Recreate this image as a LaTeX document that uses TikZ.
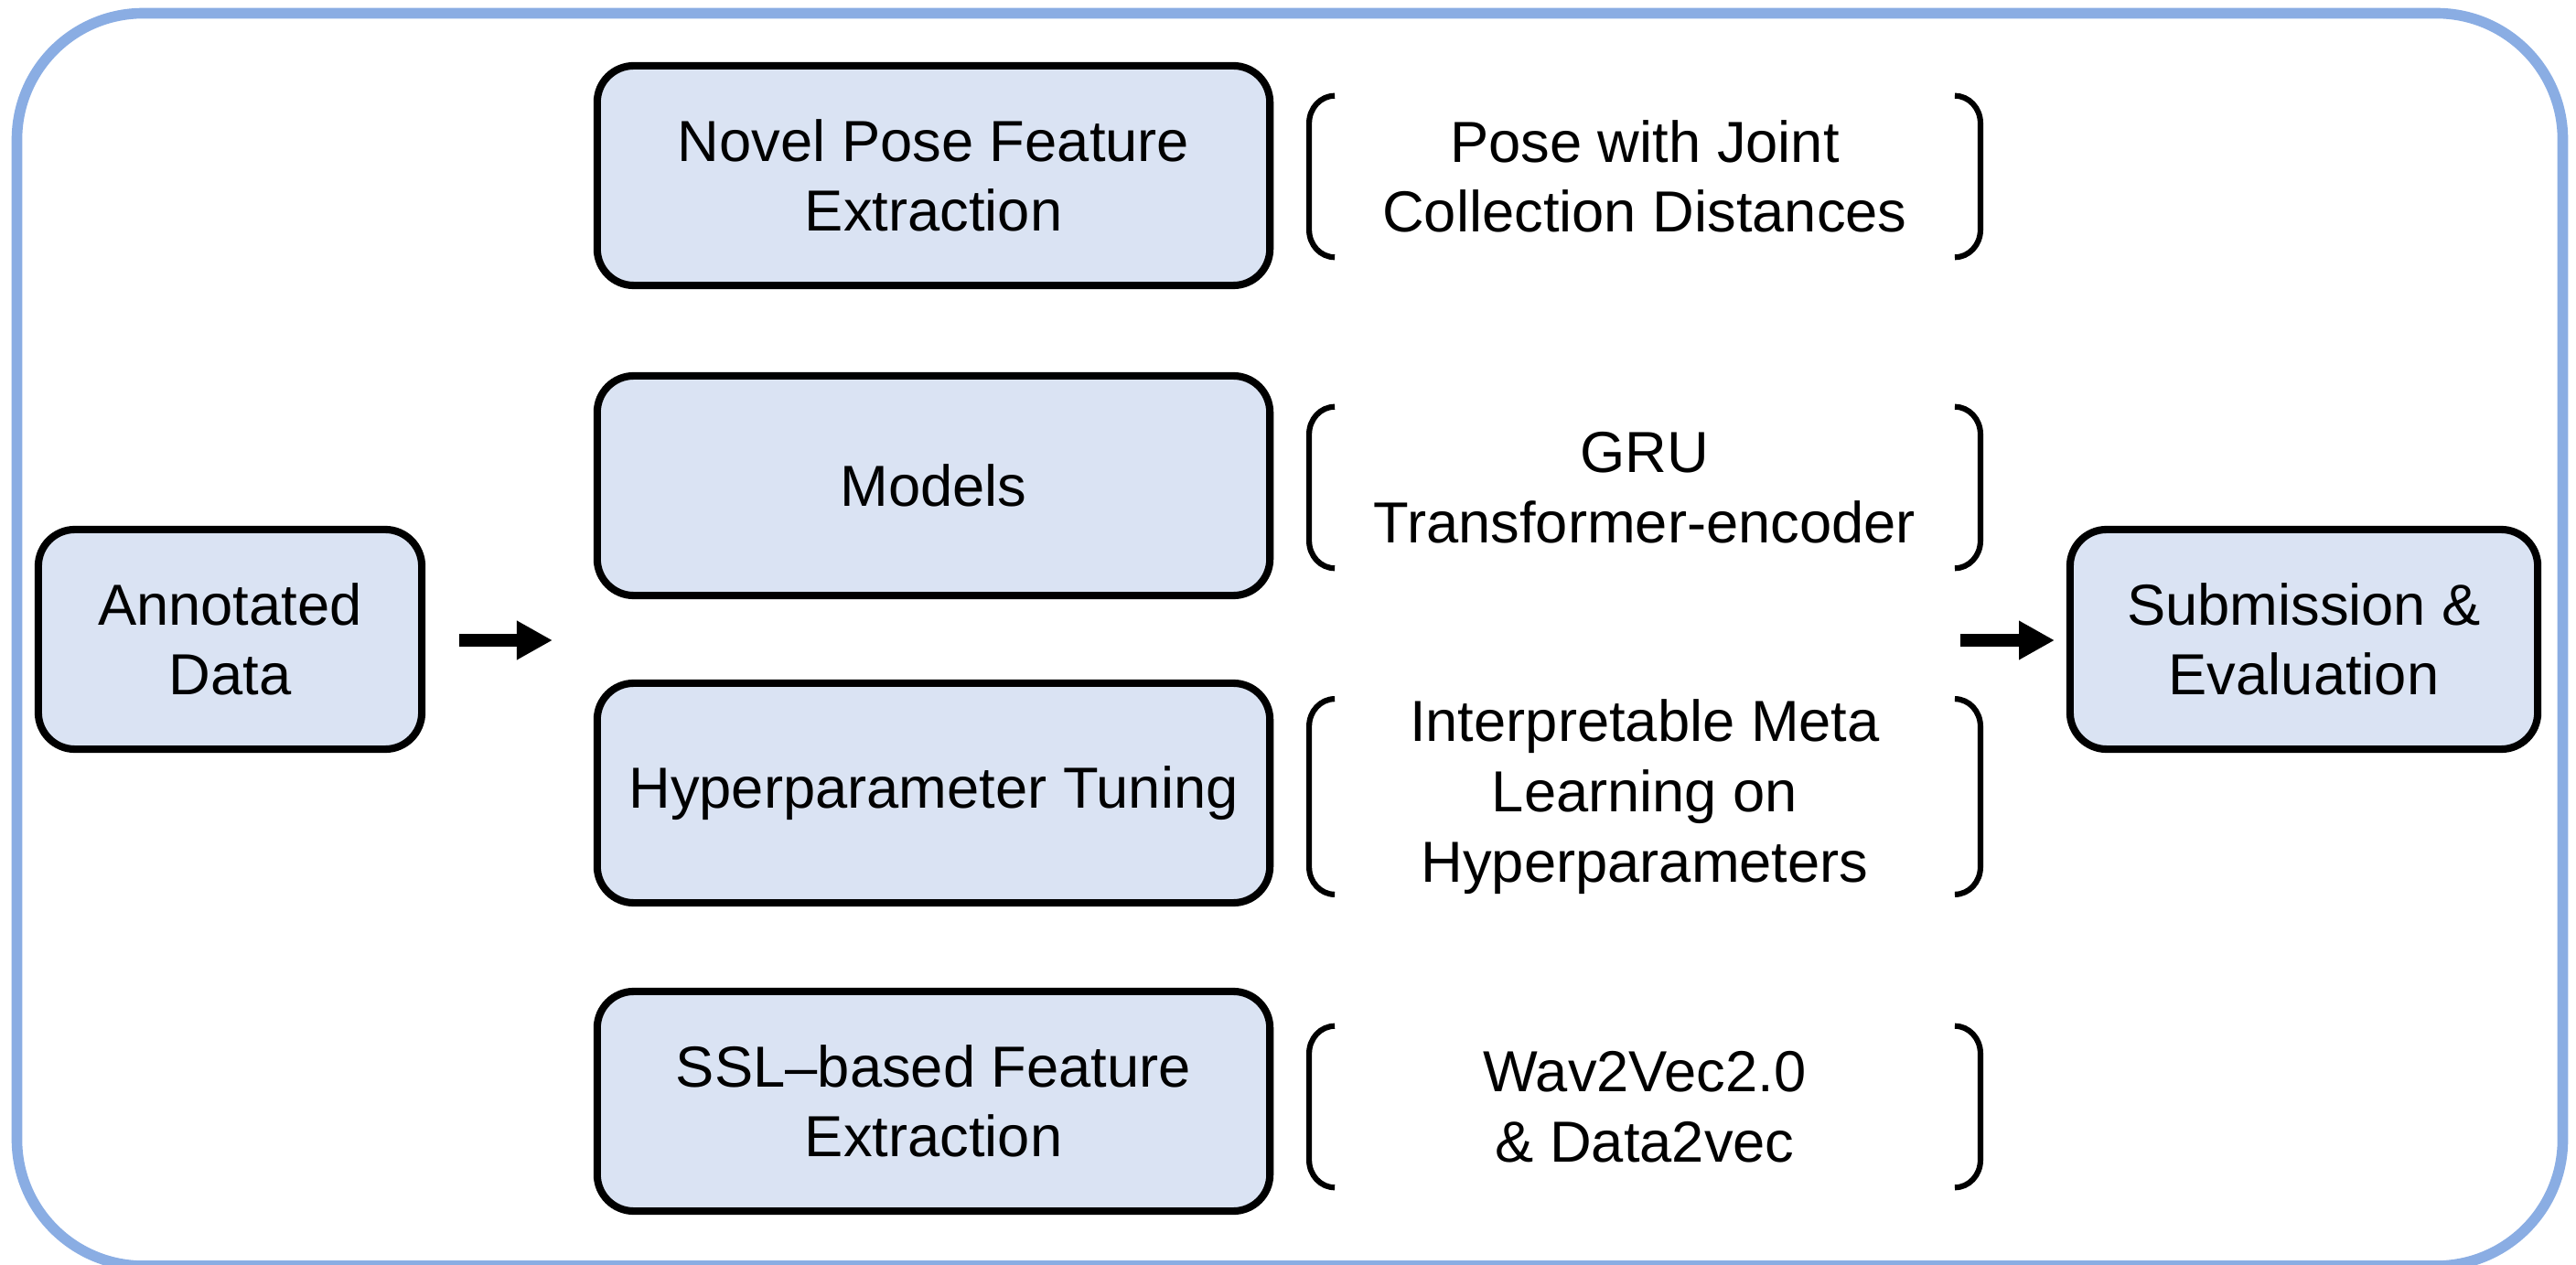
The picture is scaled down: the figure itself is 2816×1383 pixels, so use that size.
\documentclass[tikz,border=0pt]{standalone}
\usepackage{fontspec}
\setmainfont{Liberation Sans}
\usetikzlibrary{arrows.meta,calc}

\definecolor{boxfill}{HTML}{DAE3F3}
\definecolor{frameblue}{HTML}{8AADE3}

% A pair of round brackets hugging the left and right sides of a node
% (corners are quarter arcs, 28 units wide and 30 units tall)
\newcommand\drawbrackets[1]{%
  \draw[brk] ($(#1.north west)+(28,0)$)
      .. controls ($(#1.north west)+(12.5,0)$) and ($(#1.north west)+(0,13.4)$) .. ($(#1.north west)+(0,30)$)
    -- ($(#1.south west)+(0,-30)$)
      .. controls ($(#1.south west)+(0,-13.4)$) and ($(#1.south west)+(12.5,0)$) .. ($(#1.south west)+(28,0)$);
  \draw[brk] ($(#1.north east)+(-28,0)$)
      .. controls ($(#1.north east)+(-12.5,0)$) and ($(#1.north east)+(0,13.4)$) .. ($(#1.north east)+(0,30)$)
    -- ($(#1.south east)+(0,-30)$)
      .. controls ($(#1.south east)+(0,-13.4)$) and ($(#1.south east)+(-12.5,0)$) .. ($(#1.south east)+(-28,0)$);
}

\begin{document}
\begin{tikzpicture}[x=0.01cm, y=-0.01cm,
  txt/.style={font=\fontsize{18pt}{21.8pt}\selectfont, align=center, inner sep=0pt},
  stage/.style={txt, draw=black, line width=2.3pt, fill=boxfill, rounded corners=0.4cm,
                minimum height=2.4cm},
  midstage/.style={stage, minimum width=7.35cm},
  desc/.style={txt, minimum width=7.32cm, minimum height=1.75cm},
  brk/.style={line width=1.75pt, line cap=butt},
  flow/.style={line width=3.84pt, -{Triangle[length=0.39cm, width=0.40cm]}},
  frame/.style={draw=frameblue, line width=3.3pt, rounded corners=1.38cm}]

  \useasboundingbox (0,0) rectangle (2816,1383);

  % outer frame
  \draw[frame] (18.5,14.5) rectangle (2801.5,1384);

  % input and output stages
  \node[stage, minimum width=4.19cm] (ann) at (251.5,699) {Annotated\\Data};
  \node[stage, minimum width=5.11cm] (sub) at (2518.5,699) {Submission \&\\Evaluation};

  % method stages
  \node[midstage] (pose)  at (1020.5,192)  {Novel Pose Feature\\Extraction};
  \node[midstage] (model) at (1020.5,531)  {Models};
  \node[midstage] (hyper) at (1020.5,867)  {Hyperparameter Tuning};
  \node[midstage] (ssl)   at (1020.5,1204) {SSL–based Feature\\Extraction};

  % details of each stage
  \node[desc] (dpose)  at (1798,193)  {Pose with Joint\\Collection Distances};
  \node[desc] (dmodel) at (1798,533)  {GRU\\Transformer-encoder};
  \node[desc] (dhyper) at (1798,871)  {Interpretable Meta\\Learning on\\Hyperparameters};
  \node[desc] (dssl)   at (1798,1210) {Wav2Vec2.0\\\& Data2vec};

  \drawbrackets{dpose}
  \drawbrackets{dmodel}
  \drawbrackets{dhyper}
  \drawbrackets{dssl}

  % flow arrows
  \coordinate (inA)  at (502,700);
  \coordinate (inB)  at (604,700);
  \coordinate (outA) at (2143,700);
  \coordinate (outB) at (2246,700);
  \draw[flow] (inA) -- (inB);
  \draw[flow] (outA) -- (outB);
\end{tikzpicture}
\end{document}
